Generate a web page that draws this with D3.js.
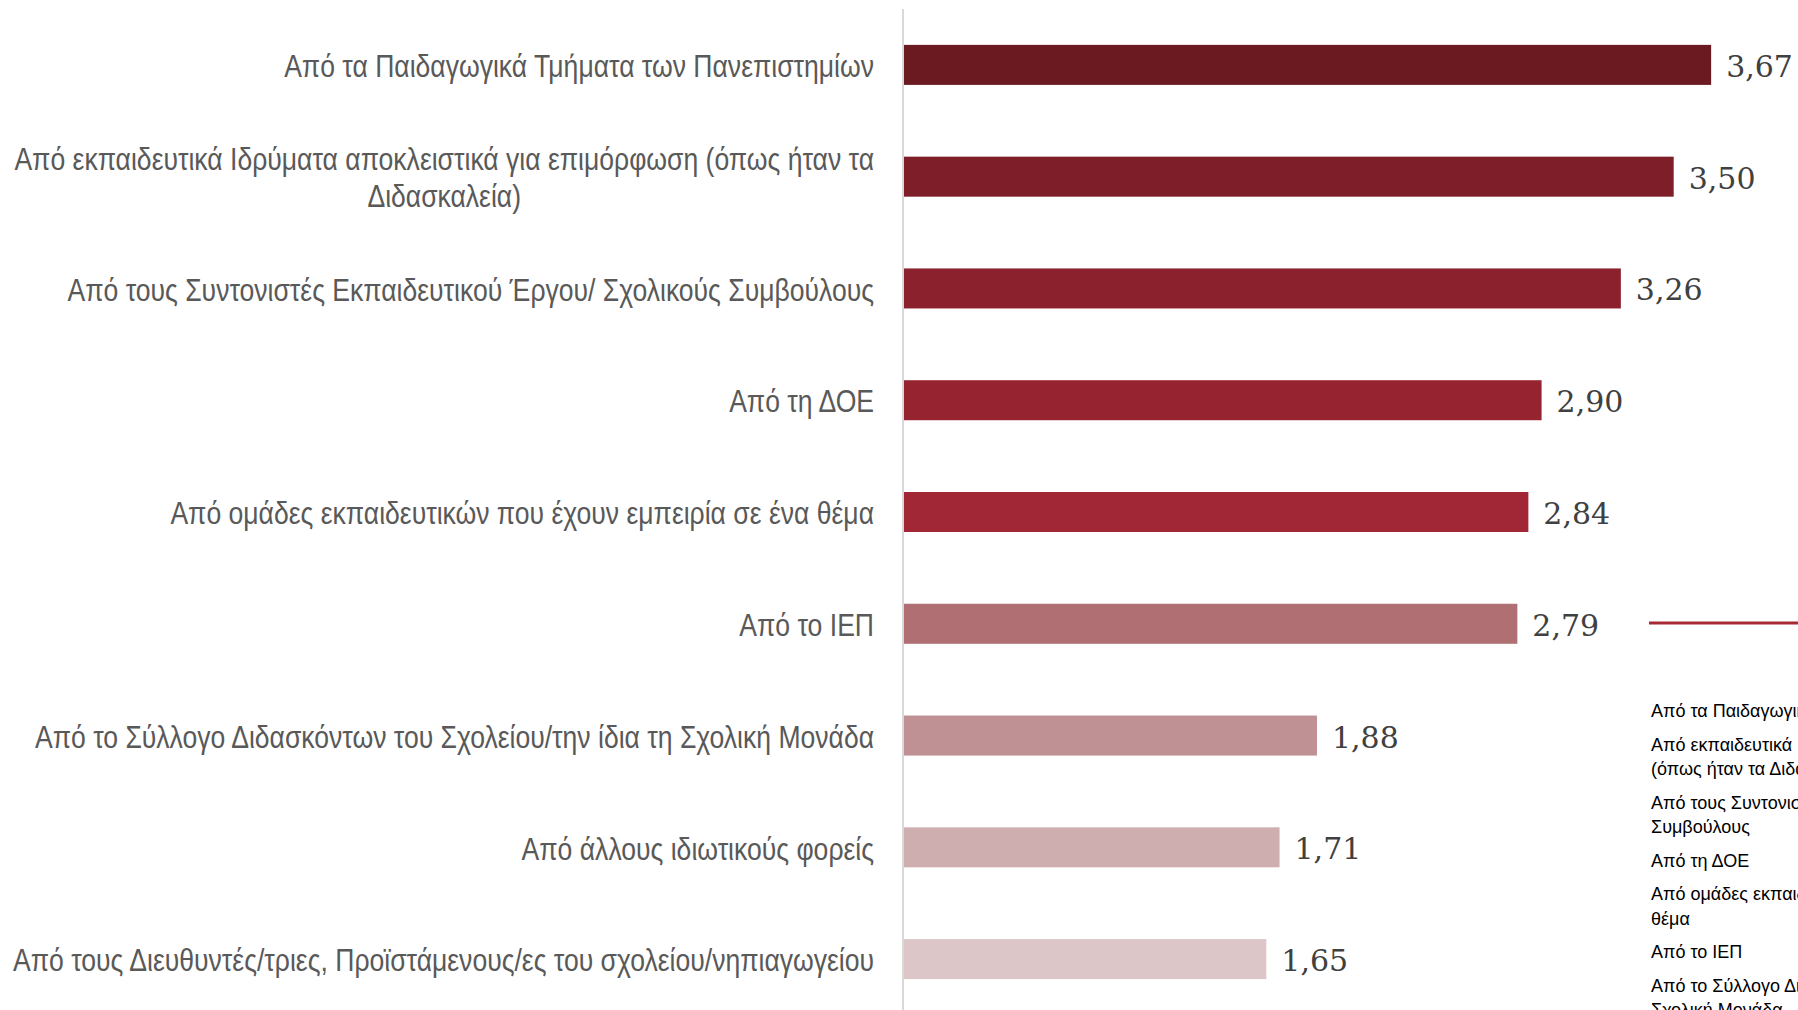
<!DOCTYPE html>
<html>
<head>
<meta charset="utf-8">
<script src="https://cdn.jsdelivr.net/npm/d3@7"></script>
<style>
  body { margin: 0; background: #fff; overflow: hidden; }
  svg { display: block; }
  .cat { font-family: "Liberation Sans", Arial, sans-serif; font-size: 32px; fill: #595959; }
  .val { font-family: "DejaVu Serif", Georgia, serif; font-size: 30px; fill: #404040; }
  .leg { font-family: "Liberation Sans", Arial, sans-serif; font-size: 18px; fill: #000; }
</style>
</head>
<body>
<svg id="chart"></svg>
<script>
// data
var categories = [
  "Από τα Παιδαγωγικά Τμήματα των Πανεπιστημίων",
  "Από εκπαιδευτικά Ιδρύματα αποκλειστικά για επιμόρφωση (όπως ήταν τα Διδασκαλεία)",
  "Από τους Συντονιστές Εκπαιδευτικού Έργου/ Σχολικούς Συμβούλους",
  "Από τη ΔΟΕ",
  "Από ομάδες εκπαιδευτικών που έχουν εμπειρία σε ένα θέμα",
  "Από το ΙΕΠ",
  "Από το Σύλλογο Διδασκόντων του Σχολείου/την ίδια τη Σχολική Μονάδα",
  "Από άλλους ιδιωτικούς φορείς",
  "Από τους Διευθυντές/τριες, Προϊστάμενους/ες του σχολείου/νηπιαγωγείου"
];
var values = [3.67, 3.50, 3.26, 2.90, 2.84, 2.79, 1.88, 1.71, 1.65];
var barColors = ["#6c1a22", "#7d1e29", "#8a212d", "#952430", "#a12636",
                 "#b07073", "#c09194", "#cfaeb0", "#dcc6c7"];
// legend of the neighbouring chart (cut off at the right edge)
var legendLabels = [
  "Από τα Παιδαγωγικά Τμήματα των Πανεπιστημίων",
  "Από εκπαιδευτικά Ιδρύματα αποκλειστικά για επιμόρφωση\n(όπως ήταν τα Διδασκαλεία)",
  "Από τους Συντονιστές Εκπαιδευτικού Έργου/ Σχολικούς\nΣυμβούλους",
  "Από τη ΔΟΕ",
  "Από ομάδες εκπαιδευτικών που έχουν εμπειρία σε ένα\nθέμα",
  "Από το ΙΕΠ",
  "Από το Σύλλογο Διδασκόντων του Σχολείου/την ίδια τη\nΣχολική Μονάδα"
];

var width = 1798, height = 1010;
var narrow = 0.83;   // fake a condensed face (no Arial Narrow here)
var svg = d3.select("#chart").attr("width", width).attr("height", height);

var x = d3.scaleLinear().domain([0, 4]).range([903, 903 + 4 * 220.2]);
var y = d3.scaleBand().domain(categories).range([9, 1015])
  .paddingInner(0.642).paddingOuter(0.321);

// bars
svg.selectAll("rect.bar").data(values).enter().append("rect")
  .attr("class", "bar")
  .attr("x", x(0))
  .attr("y", function(d, i){ return y(categories[i]); })
  .attr("width", function(d){ return x(d) - x(0); })
  .attr("height", y.bandwidth())
  .attr("fill", function(d, i){ return barColors[i]; });

// value labels
svg.selectAll("text.val").data(values).enter().append("text")
  .attr("class", "val")
  .attr("x", function(d){ return x(d) + 15; })
  .attr("y", function(d, i){ return y(categories[i]) + y.bandwidth() / 2; })
  .attr("dy", "0.4em")
  .text(function(d){ return d.toFixed(2).replace(".", ","); });

// category axis
var pad = 29;
var yAxis = d3.axisLeft(y).tickSize(0).tickPadding(pad);
var axisG = svg.append("g").attr("transform", "translate(" + x(0) + ",0)").call(yAxis);
axisG.select(".domain").remove();
axisG.append("line")
  .attr("x1", 0).attr("x2", 0).attr("y1", 9).attr("y2", height)
  .attr("stroke", "#d9d9d9").attr("stroke-width", 2);
axisG.selectAll(".tick text")
  .attr("class", "cat")
  .attr("fill", null)
  .attr("font-size", null)
  .attr("font-family", null)
  .attr("x", -pad / narrow)
  .attr("dy", "0.38em")
  .attr("transform", "scale(" + narrow + ",1)")
  .each(function(d){ wrap(d3.select(this), d, 875 / narrow); });

function wrap(text, str, maxW) {
  var words = str.split(" "), lines = [], line = [];
  text.text(null);
  var probe = text.append("tspan");
  words.forEach(function(w){
    line.push(w);
    probe.text(line.join(" "));
    if (probe.node().getComputedTextLength() > maxW && line.length > 1) {
      line.pop();
      lines.push(line.join(" "));
      line = [w];
    }
  });
  lines.push(line.join(" "));
  probe.text(lines[0]);
  var w0 = probe.node().getComputedTextLength();
  probe.remove();
  if (lines.length === 1) { text.text(str); return; }
  var lh = 37, x0 = -pad / narrow - w0 / 2;
  text.attr("text-anchor", "middle").attr("dy", null);
  lines.forEach(function(l, k){
    text.append("tspan").attr("x", x0)
      .attr("y", (k - (lines.length - 1) / 2) * lh)
      .attr("dy", "0.38em").text(l);
  });
}

// legend fragment
svg.append("line")
  .attr("x1", 1649).attr("x2", width).attr("y1", 623).attr("y2", 623)
  .attr("stroke", "#a52a36").attr("stroke-width", 3);
var ly = 711;
legendLabels.forEach(function(lbl){
  var parts = lbl.split("\n");
  var t = svg.append("text").attr("class", "leg");
  parts.forEach(function(p, k){
    t.append("tspan").attr("x", 1651).attr("y", ly + k * 24.5).attr("dy", "0.35em").text(p);
  });
  ly += parts.length * 24.5 + 9;
});
</script>
</body>
</html>
